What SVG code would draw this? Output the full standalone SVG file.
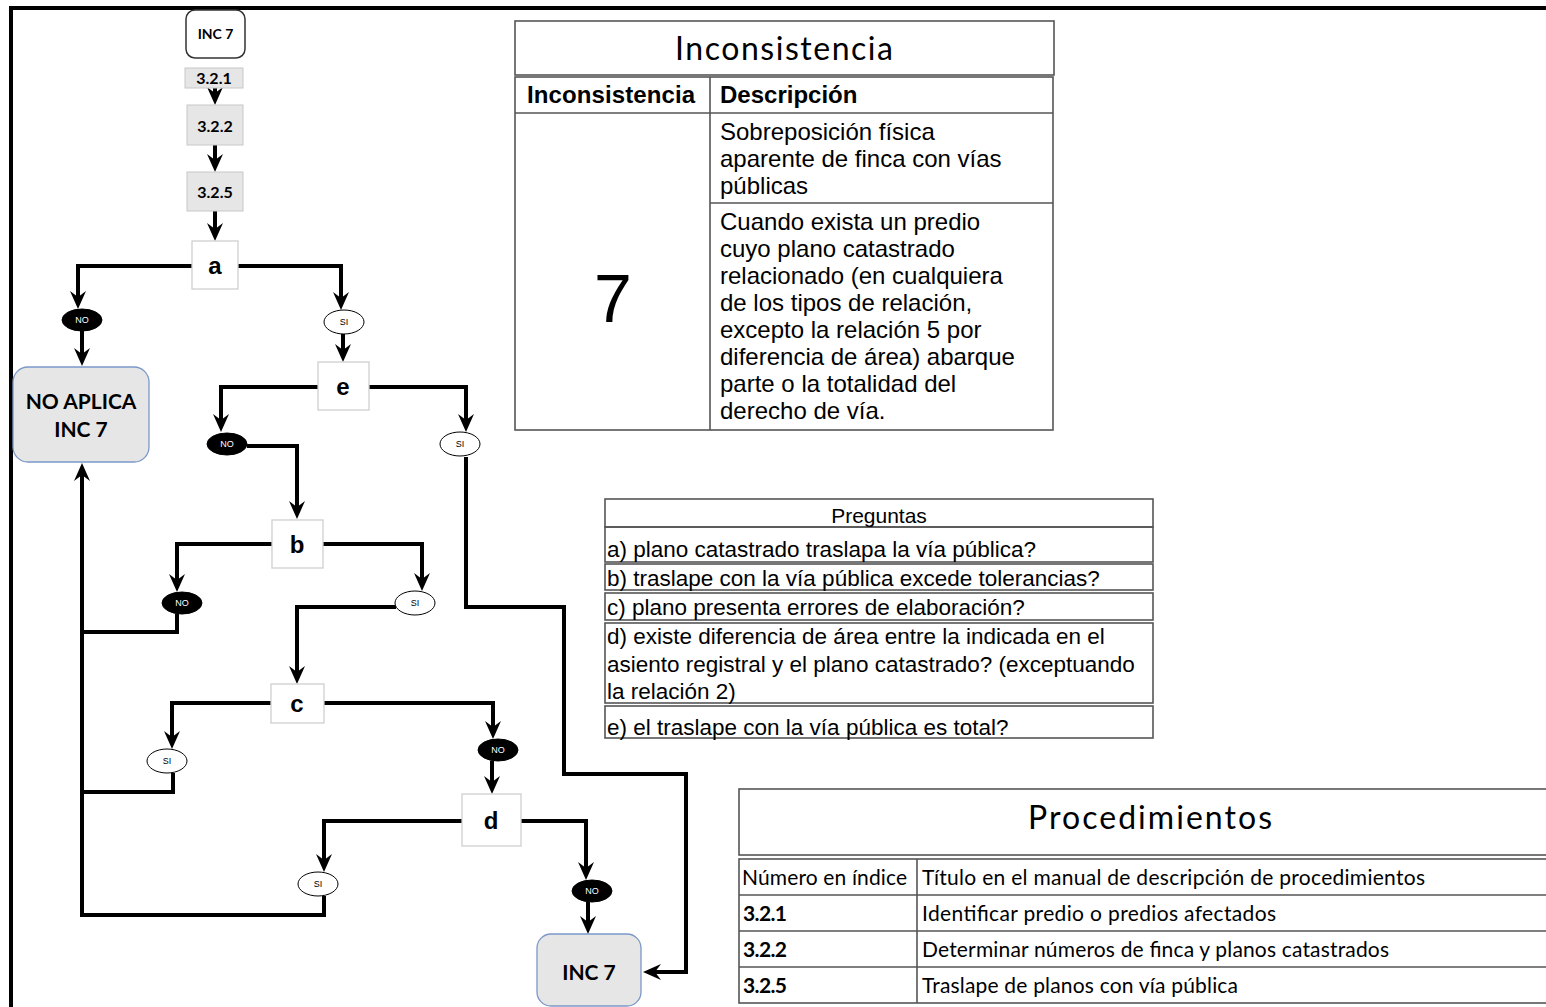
<svg xmlns="http://www.w3.org/2000/svg" width="1546" height="1007" viewBox="0 0 1546 1007">
<style>
.conn{fill:none;stroke:#000;stroke-width:4;stroke-linejoin:miter}
.arr{marker-end:url(#ah)}
.proc{fill:#e6e6e6;stroke:#c8c8c8;stroke-width:1}
.dec{fill:#fff;stroke:#cfcfcf;stroke-width:1.3}
.term{fill:#e6e6e6;stroke:#7b98c8;stroke-width:1.3}
.si{fill:#fff;stroke:#000;stroke-width:1}
.no{fill:#000;stroke:#000;stroke-width:1}
.cal{font-family:Lato,"Liberation Sans",sans-serif}
.ar{font-family:"Liberation Sans",Arial,sans-serif}
.b{font-weight:bold}
.mid{text-anchor:middle}
.tiny{font-size:9px}
.w{fill:#fff}
.tb{fill:none;stroke:#555;stroke-width:1.6}
.tl{stroke:#555;stroke-width:1.6}
</style>
<defs>
<marker id="ah" viewBox="0 0 18 18" refX="8" refY="9" markerWidth="18" markerHeight="18" markerUnits="userSpaceOnUse" orient="auto">
<path d="M0,1 L18,9 L0,17 L6,9 Z" fill="#000"/>
</marker>
</defs>
<rect x="0" y="0" width="1546" height="1007" fill="#fff"/>
<line x1="9" y1="8" x2="1546" y2="8" stroke="#000" stroke-width="4"/>
<line x1="11" y1="6" x2="11" y2="1007" stroke="#000" stroke-width="4"/>

<g id="connectors">
<path class="conn arr" d="M215,88 V95"/>
<path class="conn arr" d="M215,145 V162"/>
<path class="conn arr" d="M215,211 V231"/>
<path class="conn arr" d="M192,266 H78 V299"/>
<path class="conn arr" d="M82,331 V356"/>
<path class="conn arr" d="M238,266 H341 V300"/>
<path class="conn arr" d="M343,334 V352"/>
<path class="conn arr" d="M318,387 H221 V422"/>
<path class="conn arr" d="M247,446 H297 V509"/>
<path class="conn arr" d="M369,387 H466 V422"/>
<path class="conn arr" d="M466,457 V607 H564 V774 H686 V972 H653"/>
<path class="conn arr" d="M272,544 H177 V582"/>
<path class="conn" d="M177,614 V632 H82"/>
<path class="conn arr" d="M82,915 V473"/>
<path class="conn arr" d="M323,544 H422 V581"/>
<path class="conn arr" d="M396,607 H297 V674"/>
<path class="conn arr" d="M271,703 H172 V739"/>
<path class="conn" d="M173,773 V792 H82"/>
<path class="conn arr" d="M324,703 H493 V729"/>
<path class="conn arr" d="M492,761 V784"/>
<path class="conn arr" d="M462,821 H324 V862"/>
<path class="conn" d="M324,896 V915 H80"/>
<path class="conn arr" d="M521,821 H586 V870"/>
<path class="conn arr" d="M588,902 V924"/>
</g>

<g id="start">
<rect x="186" y="10" width="59" height="48" rx="9" fill="#fff" stroke="#333" stroke-width="1.5"/>
<text x="215.5" y="39" class="cal b mid" font-size="14">INC 7</text>
</g>
<g id="p321">
<rect class="proc" x="185" y="68" width="58" height="20"/>
<text x="214" y="84" class="cal b mid" font-size="16">3.2.1</text>
</g>
<g id="p322">
<rect class="proc" x="187" y="105" width="56" height="40"/>
<text x="215" y="132" class="cal b mid" font-size="16">3.2.2</text>
</g>
<g id="p325">
<rect class="proc" x="187" y="172" width="56" height="39"/>
<text x="215" y="198" class="cal b mid" font-size="16">3.2.5</text>
</g>

<g id="dec-a">
<rect class="dec" x="192" y="241" width="46" height="48"/>
<text x="215" y="274" class="ar b mid" font-size="24">a</text>
</g>
<g id="dec-e">
<rect class="dec" x="318" y="362" width="51" height="48"/>
<text x="343" y="395" class="ar b mid" font-size="24">e</text>
</g>
<g id="dec-b">
<rect class="dec" x="272" y="520" width="51" height="48"/>
<text x="297" y="553" class="ar b mid" font-size="24">b</text>
</g>
<g id="dec-c">
<rect class="dec" x="271" y="684" width="53" height="39"/>
<text x="297" y="712" class="ar b mid" font-size="24">c</text>
</g>
<g id="dec-d">
<rect class="dec" x="462" y="794" width="59" height="52"/>
<text x="491" y="829" class="ar b mid" font-size="24">d</text>
</g>

<g id="no-a"><ellipse class="no" cx="82" cy="320" rx="20" ry="11"/><text x="82" y="323" class="ar mid tiny w">NO</text></g>
<g id="si-a"><ellipse class="si" cx="344" cy="322" rx="20" ry="12"/><text x="344" y="325" class="ar mid tiny">SI</text></g>
<g id="no-e"><ellipse class="no" cx="227" cy="444" rx="20" ry="11"/><text x="227" y="447" class="ar mid tiny w">NO</text></g>
<g id="si-e"><ellipse class="si" cx="460" cy="444" rx="20" ry="12"/><text x="460" y="447" class="ar mid tiny">SI</text></g>
<g id="no-b"><ellipse class="no" cx="182" cy="603" rx="20" ry="11"/><text x="182" y="606" class="ar mid tiny w">NO</text></g>
<g id="si-b"><ellipse class="si" cx="415" cy="603" rx="20" ry="12"/><text x="415" y="606" class="ar mid tiny">SI</text></g>
<g id="si-c"><ellipse class="si" cx="167" cy="761" rx="20" ry="12"/><text x="167" y="764" class="ar mid tiny">SI</text></g>
<g id="no-c"><ellipse class="no" cx="498" cy="750" rx="20" ry="11"/><text x="498" y="753" class="ar mid tiny w">NO</text></g>
<g id="si-d"><ellipse class="si" cx="318" cy="884" rx="20" ry="12"/><text x="318" y="887" class="ar mid tiny">SI</text></g>
<g id="no-d"><ellipse class="no" cx="592" cy="891" rx="20" ry="11"/><text x="592" y="894" class="ar mid tiny w">NO</text></g>

<g id="no-aplica">
<rect class="term" x="13" y="367" width="136" height="95" rx="15"/>
<text x="81" y="409" class="cal b mid" font-size="21">NO APLICA</text>
<text x="81" y="437" class="cal b mid" font-size="21">INC 7</text>
</g>
<g id="inc7-end">
<rect class="term" x="537" y="934" width="104" height="72" rx="14"/>
<text x="589" y="980" class="cal b mid" font-size="21">INC 7</text>
</g>

<g id="tabla-inconsistencia">
<rect class="tb" x="515" y="21" width="539" height="54"/>
<text x="784" y="60" class="cal mid" font-size="32" textLength="218">Inconsistencia</text>
<rect class="tb" x="515" y="77" width="538" height="353"/>
<line class="tl" x1="515" y1="113" x2="1053" y2="113"/>
<line class="tl" x1="710" y1="77" x2="710" y2="430"/>
<line class="tl" x1="710" y1="203" x2="1053" y2="203"/>
<text x="527" y="103" class="ar b" font-size="24" textLength="168">Inconsistencia</text>
<text x="720" y="103" class="ar b" font-size="24">Descripción</text>
<text x="613" y="322" class="ar mid" font-size="68">7</text>
<g class="ar" font-size="24">
<text x="720" y="140">Sobreposición física</text>
<text x="720" y="167">aparente de finca con vías</text>
<text x="720" y="194">públicas</text>
<text x="720" y="230">Cuando exista un predio</text>
<text x="720" y="257">cuyo plano catastrado</text>
<text x="720" y="284">relacionado (en cualquiera</text>
<text x="720" y="311">de los tipos de relación,</text>
<text x="720" y="338">excepto la relación 5 por</text>
<text x="720" y="365">diferencia de área) abarque</text>
<text x="720" y="392">parte o la totalidad del</text>
<text x="720" y="419">derecho de vía.</text>
</g>
</g>

<g id="tabla-preguntas">
<rect class="tb" x="605" y="499" width="548" height="28"/>
<rect class="tb" x="605" y="527" width="548" height="35"/>
<rect class="tb" x="605" y="564" width="548" height="26"/>
<rect class="tb" x="605" y="593" width="548" height="27"/>
<rect class="tb" x="605" y="623" width="548" height="80"/>
<rect class="tb" x="605" y="706" width="548" height="32"/>
<g class="ar" font-size="22.5">
<text x="879" y="523" class="mid" font-size="21">Preguntas</text>
<text x="607" y="557">a) plano catastrado traslapa la vía pública?</text>
<text x="607" y="586">b) traslape con la vía pública excede tolerancias?</text>
<text x="607" y="615">c) plano presenta errores de elaboración?</text>
<text x="607" y="644">d) existe diferencia de área entre la indicada en el</text>
<text x="607" y="672">asiento registral y el plano catastrado? (exceptuando</text>
<text x="607" y="699">la relación 2)</text>
<text x="607" y="735">e) el traslape con la vía pública es total?</text>
</g>
</g>

<g id="tabla-procedimientos">
<rect class="tb" x="739" y="789" width="830" height="66"/>
<text x="1150" y="829" class="cal mid" font-size="32" textLength="244">Procedimientos</text>
<rect class="tb" x="739" y="859" width="830" height="144"/>
<line class="tl" x1="739" y1="895" x2="1546" y2="895"/>
<line class="tl" x1="739" y1="931" x2="1546" y2="931"/>
<line class="tl" x1="739" y1="967" x2="1546" y2="967"/>
<line class="tl" x1="917" y1="859" x2="917" y2="1003"/>
<g class="cal" font-size="21">
<text x="742" y="885" textLength="165">Número en índice</text>
<text x="922" y="885" textLength="503">Título en el manual de descripción de procedimientos</text>
<text x="743" y="921" class="b" textLength="44">3.2.1</text>
<text x="922" y="921" textLength="354">Identificar predio o predios afectados</text>
<text x="743" y="957" class="b" textLength="44">3.2.2</text>
<text x="922" y="957" textLength="467">Determinar números de finca y planos catastrados</text>
<text x="743" y="993" class="b" textLength="44">3.2.5</text>
<text x="922" y="993" textLength="316">Traslape de planos con vía pública</text>
</g>
</g>
</svg>
